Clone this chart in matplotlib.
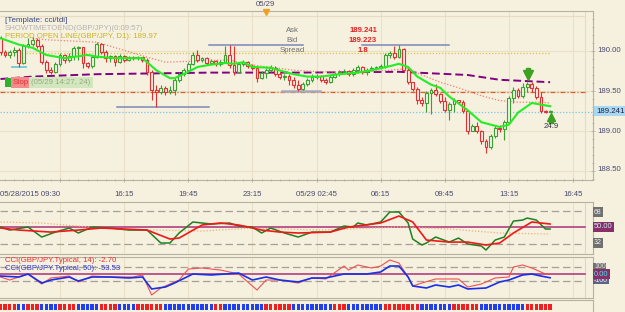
import matplotlib
matplotlib.use("Agg")
import matplotlib.pyplot as plt
from matplotlib.patches import Rectangle
import numpy as np

# ---- GBP/JPY 15-minute bars (05/28 09:30 -> 05/29 15:30) ----
first_open = 190.16
closes = [189.99, 189.95, 189.99, 190.01, 189.85, 190.06, 190.09, 190.14, 190.06, 189.86,
          189.76, 189.74, 189.84, 189.95, 189.89, 189.94, 190.04, 190.05, 189.85, 189.81,
          189.93, 190.09, 189.99, 189.91, 189.94, 189.86, 189.94, 189.89, 189.93, 189.91,
          189.93, 189.89, 189.74, 189.51, 189.49, 189.54, 189.49, 189.51, 189.64, 189.71,
          189.76, 189.84, 189.95, 189.89, 189.91, 189.85, 189.88, 189.84, 189.86, 189.95,
          189.83, 189.74, 189.84, 189.86, 189.81, 189.79, 189.66, 189.73, 189.76, 189.79,
          189.71, 189.68, 189.69, 189.64, 189.58, 189.53, 189.59, 189.64, 189.68, 189.69,
          189.64, 189.61, 189.68, 189.71, 189.74, 189.75, 189.71, 189.76, 189.80, 189.74,
          189.76, 189.79, 189.79, 189.81, 189.95, 189.98, 189.93, 190.03, 189.76, 189.61,
          189.53, 189.39, 189.35, 189.48, 189.51, 189.46, 189.38, 189.26, 189.34, 189.39,
          189.36, 189.25, 189.00, 189.06, 189.00, 188.88, 188.80, 188.94, 189.04, 189.03,
          189.11, 189.41, 189.51, 189.44, 189.55, 189.59, 189.54, 189.43, 189.25, 189.24, 189.241]
highs = [190.19, 190.01, 190.01, 190.05, 190.04, 190.09, 190.16, 190.18, 190.16, 190.09,
         189.89, 189.80, 189.86, 189.98, 189.96, 189.98, 190.06, 190.06, 190.05, 189.86,
         189.95, 190.11, 190.10, 190.01, 189.95, 189.95, 189.96, 189.95, 189.94, 189.94,
         189.94, 189.93, 189.91, 189.76, 189.58, 189.58, 189.56, 189.56, 189.66, 189.74,
         189.79, 189.86, 189.99, 190.01, 189.93, 189.93, 189.90, 189.89, 189.89, 190.06,
         190.08, 190.06, 189.86, 189.89, 189.88, 189.84, 189.81, 189.75, 189.79, 189.83,
         189.81, 189.74, 189.71, 189.71, 189.68, 189.64, 189.61, 189.66, 189.71, 189.71,
         189.70, 189.66, 189.70, 189.74, 189.76, 189.78, 189.76, 189.79, 189.83, 189.81,
         189.79, 189.81, 189.81, 189.84, 189.98, 190.00, 190.06, 190.08, 190.04, 189.79,
         189.61, 189.55, 189.43, 189.50, 189.54, 189.59, 189.48, 189.43, 189.36, 189.41,
         189.39, 189.39, 189.26, 189.09, 189.11, 189.01, 188.90, 188.96, 189.06, 189.08,
         189.14, 189.44, 189.55, 189.54, 189.60, 189.61, 189.61, 189.56, 189.49, 189.26, 189.26]
lows = [189.95, 189.93, 189.91, 189.94, 189.80, 189.84, 190.04, 190.06, 190.04, 189.84,
        189.73, 189.71, 189.73, 189.81, 189.85, 189.86, 189.89, 189.89, 189.79, 189.79,
        189.79, 189.91, 189.96, 189.86, 189.86, 189.81, 189.85, 189.86, 189.88, 189.89,
        189.89, 189.86, 189.70, 189.39, 189.30, 189.46, 189.45, 189.46, 189.45, 189.61,
        189.69, 189.75, 189.83, 189.86, 189.86, 189.83, 189.84, 189.81, 189.81, 189.85,
        189.79, 189.70, 189.74, 189.81, 189.79, 189.76, 189.61, 189.65, 189.66, 189.74,
        189.69, 189.65, 189.64, 189.58, 189.54, 189.50, 189.51, 189.56, 189.61, 189.65,
        189.61, 189.59, 189.60, 189.66, 189.69, 189.71, 189.69, 189.69, 189.73, 189.71,
        189.70, 189.75, 189.76, 189.78, 189.79, 189.91, 189.90, 189.91, 189.74, 189.59,
        189.50, 189.34, 189.31, 189.24, 189.21, 189.44, 189.35, 189.24, 189.14, 189.24,
        189.34, 189.23, 188.96, 189.00, 188.98, 188.84, 188.73, 188.78, 188.91, 188.99,
        188.89, 189.09, 189.35, 189.41, 189.41, 189.49, 189.49, 189.40, 189.23, 189.23, 189.24]

# moving averages (bar index, price)
fast_ma_idx = [0, 4, 7, 10, 14, 19, 21, 25, 31, 32, 34, 37, 38, 41, 43, 46, 49, 51, 53, 55, 59,
               62, 64, 67, 70, 74, 78, 81, 85, 87, 89, 91, 94, 96, 98, 102, 105, 109, 111, 113, 116, 120]
fast_ma = [190.16, 190.08, 190.04, 189.95, 189.91, 189.95, 189.93, 189.91, 189.91, 189.86, 189.76,
           189.66, 189.66, 189.74, 189.80, 189.83, 189.85, 189.84, 189.86, 189.80, 189.79,
           189.74, 189.71, 189.68, 189.68, 189.71, 189.73, 189.76, 189.81, 189.84, 189.80, 189.68,
           189.58, 189.54, 189.43, 189.26, 189.11, 189.05, 189.08, 189.23, 189.35, 189.31]
mid_ma_idx = [7, 10, 21, 31, 36, 50, 53, 60, 64, 70, 78, 85, 89, 92, 96, 100, 105, 109, 113, 118, 120]
mid_ma = [190.16, 190.14, 190.11, 189.94, 189.86, 189.89, 189.84, 189.79, 189.76, 189.74, 189.74,
          189.76, 189.78, 189.70, 189.61, 189.54, 189.44, 189.38, 189.36, 189.36, 189.35]
slow_ma_idx = [0, 7, 21, 46, 65, 87, 102, 109, 120]
slow_ma = [189.65, 189.68, 189.71, 189.73, 189.73, 189.74, 189.70, 189.64, 189.61]

period_open = 189.97
stop_level = 189.49
bid = 189.241

# TDI panel
tdi_green_idx = [0, 2, 6, 9, 12, 15, 17, 20, 24, 28, 32, 35, 37, 39, 42, 44, 46, 50, 52, 55,
                 57, 59, 62, 65, 68, 72, 75, 77, 78, 80, 83, 85, 87, 89, 90, 92, 93, 95, 98, 100,
                 102, 105, 106, 108, 110, 112, 114, 115, 117, 119, 120]
tdi_green = [50, 46.7, 50, 39.1, 44.5, 48.9, 43.5, 50, 48.9, 46.7,
             46.7, 32.6, 32.6, 43.5, 55.5, 54.4, 53.3, 54.4, 51.1, 50,
             43.5, 48.9, 43.5, 39.1, 44.5, 44.5, 51.1, 50, 54.4, 52.2,
             55.5, 66.4, 66.4, 54.4, 36.9, 30.4, 32.6, 39.1, 33.6, 38.0,
             31.5, 29.3, 24.9, 35.8, 39.1, 56.5, 57.6, 59.8, 57.6, 47.8, 47.8]
tdi_red_idx = [0, 4, 11, 17, 22, 32, 37, 39, 44, 48, 52, 57, 61, 65, 72, 76, 83, 87, 90, 93,
               98, 102, 106, 109, 112, 116, 118, 120]
tdi_red = [48.9, 46.7, 44.5, 46.7, 48.9, 46.7, 36.9, 38.0, 52.2, 54.4, 52.2, 46.7, 44.5, 43.5,
           44.5, 50, 54.4, 62.0, 55.5, 35.8, 33.6, 33.6, 30.4, 32.6, 43.5, 55.5, 54.4, 53.3]
tdi_base_idx = [0, 9, 22, 33, 44, 55, 70, 87, 98, 109, 120]
tdi_base = [55.5, 54.4, 48.9, 46.7, 45.6, 48.9, 46.7, 50, 47.8, 43.5, 42.4]

# CCI panel
cci50_idx = [0, 4, 6, 9, 11, 15, 17, 20, 24, 28, 31, 33, 36, 38, 42, 46, 52, 55, 58, 61, 65,
             68, 71, 75, 80, 83, 85, 87, 89, 90, 93, 95, 98, 100, 102, 106, 109, 111, 114, 116, 118, 120]
cci50 = [-29, -43, 0, -129, -86, -43, -100, -43, -43, -57, -43, -214, -186, -129, 0, -14, 14, -86,
         -43, -86, -114, -57, -57, 0, 0, 29, 114, 114, -43, -171, -200, -157, -186, -157, -214,
         -200, -114, -86, -14, 0, -29, -54]
cci14_idx = [0, 2, 6, 9, 11, 15, 17, 20, 24, 29, 31, 33, 35, 39, 41, 44, 48, 52, 56, 58, 61, 65,
             68, 71, 75, 76, 78, 81, 83, 85, 87, 89, 90, 92, 95, 100, 102, 105, 108, 111, 112, 114,
             116, 119, 120]
cci14 = [-43, -86, 0, -143, -57, -29, -114, -29, -43, -43, -14, -300, -200, -86, 71, 86, 57, 0,
         -229, -86, -86, -129, -57, -71, 114, 57, 129, 86, 114, 200, 157, -43, -171, -129, -71,
         -71, -186, -143, -57, -43, 100, 129, 86, 0, -3]

# signal strip (colour runs)
strip_runs = [("r", 4), ("b", 2), ("r", 3), ("b", 4), ("r", 4), ("b", 5), ("r", 4), ("b", 4),
              ("r", 6), ("b", 11), ("r", 2), ("b", 9), ("r", 6), ("b", 9), ("r", 3), ("b", 8),
              ("r", 8), ("b", 7), ("r", 6), ("b", 10), ("r", 6)]

time_labels = ["16:15", "19:45", "23:15", "05/29 02:45", "06:15", "09:45", "13:15", "16:45"]
time_label_bars = [27, 41, 55, 69, 83, 97, 111, 125]

W, H = 625, 312
BG = "#F6F0DF"
GRID = "#EAE0C8"
FRAME = "#B8B0A0"
TXT = "#4A4A6E"
PX_PER_BAR = 4.58
X0 = -0.5 / PX_PER_BAR
X1 = (593 - 0.5) / PX_PER_BAR

plt.rcParams["font.family"] = ["Liberation Sans", "DejaVu Sans"]

fig = plt.figure(figsize=(W / 100, H / 100), dpi=100)
fig.patch.set_facecolor(BG)


def ax_at(x0, y0, x1, y1):
    a = fig.add_axes([x0 / W, 1 - y1 / H, (x1 - x0) / W, (y1 - y0) / H])
    a.set_facecolor(BG)
    a.set_xlim(X0, X1)
    for s in a.spines.values():
        s.set_color(FRAME)
        s.set_linewidth(0.8)
    a.spines["left"].set_visible(False)
    a.set_xticks([])
    a.set_yticks([])
    return a


def ftext(x, y, s, **kw):
    kw.setdefault("fontsize", 5.6)
    kw.setdefault("va", "center")
    return fig.text(x / W, 1 - y / H, s, **kw)


n = len(closes)
idx = np.arange(n)
opens = np.array([first_open] + closes[:-1])
c = np.array(closes)
hi = np.maximum(np.array(highs), np.maximum(opens, c))
lo = np.minimum(np.array(lows), np.minimum(opens, c))
grid_bars = [13 + 14 * k for k in range(9)]

# ---------------- main price panel ----------------
ax = ax_at(0, 11, 593, 180)
ax.set_ylim(188.3875, 190.5)
for g in grid_bars:
    ax.axvline(g, color=GRID, lw=0.8, zorder=0)
for p in [190.0, 189.5, 189.0, 188.5]:
    ax.axhline(p, color=GRID, lw=0.8, zorder=0)
ax.plot([X0, 127.6], [190.4375, 190.4375], color="#E6DCC4", lw=0.8, zorder=0)
ax.axvline(127.6, color="#E6DCC4", lw=0.8, zorder=0)

ax.plot([0, 120], [period_open, period_open], color="#D8C840", lw=0.9, ls=(0, (1, 1.5)), zorder=1)
ax.plot([X0, 127.6], [stop_level, stop_level], color="#D86030", lw=0.9, ls=(0, (4, 1.5, 1, 1.5)), zorder=1)
ax.plot([X0, X1], [bid, bid], color="#78C8E8", lw=0.9, ls=(0, (1, 1.5)), zorder=1)

# swing / range segments
ax.plot([25.4, 45.5], [189.30, 189.30], color="#7C88B8", lw=1.1)
ax.plot([45.5, 66.0], [190.08, 190.08], color="#7C88B8", lw=1.1)
ax.plot([79.0, 98.0], [190.08, 190.08], color="#7C88B8", lw=1.1)
ax.plot([61.5, 69.8], [189.50, 189.50], color="#A8A8B8", lw=1.8)
ax.plot([2.5, 5.6], [189.80, 189.80], color="#70C8D8", lw=1.3)

ax.plot(slow_ma_idx, slow_ma, color="#800080", lw=1.4, ls=(0, (4, 2)), zorder=2)
ax.plot(mid_ma_idx, mid_ma, color="#F08070", lw=0.9, ls=(0, (1, 1.5)), zorder=2)

bw = 0.62
for i in range(n):
    up = c[i] >= opens[i]
    col = "#3AA030" if up else "#E03030"
    face = "#EEF6E4" if up else "#FBEDE6"
    ax.vlines(i, lo[i], hi[i], color=col, lw=0.8, zorder=3)
    b0, b1 = min(opens[i], c[i]), max(opens[i], c[i])
    ax.add_patch(Rectangle((i - bw / 2, b0), bw, max(b1 - b0, 0.004), facecolor=face,
                           edgecolor=col, lw=0.8, zorder=4))

ax.plot(fast_ma_idx, fast_ma, color="#22EE22", lw=1.5, zorder=5)

# arrows
ax.plot(115.2, 189.70, marker="v", color="#3CA020", ms=7, zorder=6)
ax.plot(115.2, 189.76, marker="s", color="#3CA020", ms=3.5, zorder=6)
ax.plot(120.3, 189.17, marker="^", color="#3CA020", ms=6, zorder=6)
ax.plot(120.3, 189.13, marker="s", color="#3CA020", ms=3, zorder=6)
ax.text(120.3, 189.05, "24.9", fontsize=5.6, color="#303040", ha="center", va="center", zorder=6)

# bottom ticks
ax.tick_params(axis="x", direction="inout", length=3, color=FRAME, width=0.7)
ax.set_xticks(np.arange(1, 129, 2), minor=True)
ax.tick_params(axis="x", which="minor", direction="inout", length=2, color=FRAME, width=0.6)
ax.set_xticks(grid_bars)
ax.set_xticklabels([])
ax.tick_params(axis="y", which="both", right=True, left=False, direction="inout",
               length=3, color=FRAME, width=0.6)
ax.set_yticks(np.arange(188.4, 190.5, 0.1), minor=True)
ax.tick_params(axis="y", which="minor", length=2)
ax.set_yticks([188.5, 189.0, 189.5, 190.0])
ax.set_yticklabels([])

# texts in main panel
ftext(5, 21, "[Template: cci/tdi]", color="#3A4A80", fontsize=5.8)
ftext(5, 29, "SHOWTIMETOEND(GBP/JPY)(0:09:57)", color="#B4B4B4")
ftext(5, 37, "PERIOD OPEN LINE(GBP/JPY, D1): 189.97", color="#C8B428")
ftext(292, 31, "Ask", color="#707070", ha="center")
ftext(292, 41, "Bid", color="#707070", ha="center")
ftext(292, 51, "Spread", color="#707070", ha="center")
ftext(363, 31, "189.241", color="#E82020", ha="center", fontweight="bold")
ftext(363, 41, "189.223", color="#E82020", ha="center", fontweight="bold")
ftext(363, 51, "1.8", color="#E82020", ha="center", fontweight="bold")

fig.patches.append(Rectangle((5 / W, 1 - 87 / H), 6 / W, 9 / H, transform=fig.transFigure,
                             facecolor="#30B030", edgecolor="none"))
ftext(21, 82.5, "Stop", color="#E03030", ha="center",
      bbox=dict(boxstyle="square,pad=0.25", facecolor="#F28C8C", edgecolor="none"))
ftext(61, 82.5, "(05/29 14:27, 24)", color="#98A888", ha="center",
      bbox=dict(boxstyle="square,pad=0.25", facecolor="#D2E8BC", edgecolor="none"))

for y, s in [(51, "190.00"), (91, "189.50"), (131, "189.00"), (170, "188.50")]:
    ftext(597, y, s, color=TXT)
ftext(596, 111, "189.241", color="#202040",
      bbox=dict(boxstyle="square,pad=0.2", facecolor="#A8D8F2", edgecolor="none"))

# top date marker
ftext(265, 5, "05/29", color=TXT, ha="center")
ax.plot(58, 190.49, marker="v", color="#F0A020", ms=4, clip_on=False, zorder=7)

# time labels
ftext(0, 194, "05/28/2015 09:30", color=TXT, ha="left")
for b, s in zip(time_label_bars, time_labels):
    ftext(0.5 + PX_PER_BAR * b, 194, s, color=TXT, ha="center")

# ---------------- TDI panel ----------------
tdi = ax_at(0, 202, 593, 254)
tdi.set_ylim(20.6, 77.3)
for g in grid_bars:
    tdi.axvline(g, color=GRID, lw=0.8, zorder=0)
tdi.axvline(127.6, color="#E0D6C0", lw=0.8)
for v in [68, 32]:
    tdi.plot([X0, 127.6], [v, v], color="#A8A098", lw=0.9, ls=(0, (6, 3)))
tdi.plot([X0, 127.6], [50, 50], color="#B04080", lw=1.2)
tdi.plot(tdi_base_idx, tdi_base, color="#F4B070", lw=0.9, ls=(0, (1, 1.5)))
tdi.plot(tdi_green_idx, tdi_green, color="#208020", lw=1.1)
tdi.plot(tdi_red_idx, tdi_red, color="#F01818", lw=1.2)

ftext(594, 212, "68", color="#F0F0F0", fontsize=5,
      bbox=dict(boxstyle="square,pad=0.15", facecolor="#707070", edgecolor="none"))
ftext(594, 227, "50.00", color="#C8F0F8", fontsize=5.4,
      bbox=dict(boxstyle="square,pad=0.2", facecolor="#8A2D68", edgecolor="none"))
ftext(594, 243, "32", color="#F0F0F0", fontsize=5,
      bbox=dict(boxstyle="square,pad=0.15", facecolor="#707070", edgecolor="none"))

# ---------------- CCI panel ----------------
cci = ax_at(0, 257, 593, 298)
cci.set_ylim(-343, 243)
for g in grid_bars:
    cci.axvline(g, color=GRID, lw=0.8, zorder=0)
cci.axvline(127.6, color="#E0D6C0", lw=0.8)
for v in [100, -100]:
    cci.plot([X0, 127.6], [v, v], color="#A8A098", lw=0.9, ls=(0, (6, 3)))
cci.plot([X0, 127.6], [0, 0], color="#B04080", lw=1.2)
cci.plot(cci14_idx, cci14, color="#F05050", lw=0.8)
cci.plot(cci50_idx, cci50, color="#1830E8", lw=1.2)

ftext(5, 261, "CCI(GBP/JPY.Typical, 14): -2.70", color="#E83030")
ftext(5, 269, "CCI(GBP/JPY.Typical, 50): -53.53", color="#3038D0")
ftext(594, 267, "100", color="#E0E0E0", fontsize=5,
      bbox=dict(boxstyle="square,pad=0.1", facecolor="#707070", edgecolor="none"))
ftext(594, 280, "-100", color="#F0F0F0", fontsize=5,
      bbox=dict(boxstyle="square,pad=0.1", facecolor="#606088", edgecolor="none"))
ftext(594, 274, "0.00", color="#40E8F0", fontsize=5.4,
      bbox=dict(boxstyle="square,pad=0.15", facecolor="#8A2D68", edgecolor="none"))

# ---------------- signal strip ----------------
strip = ax_at(0, 300, 593, 312)
strip.set_ylim(0, 1)
pos = 0
for colr, cnt in strip_runs:
    for k in range(cnt):
        strip.add_patch(Rectangle((pos - 0.36, 0.15), 0.72, 0.5,
                                  facecolor="#F02020" if colr == "r" else "#2040F0",
                                  edgecolor="none"))
        pos += 1
strip.spines["bottom"].set_visible(False)

fig.savefig("out.png", dpi=100, facecolor=BG)
